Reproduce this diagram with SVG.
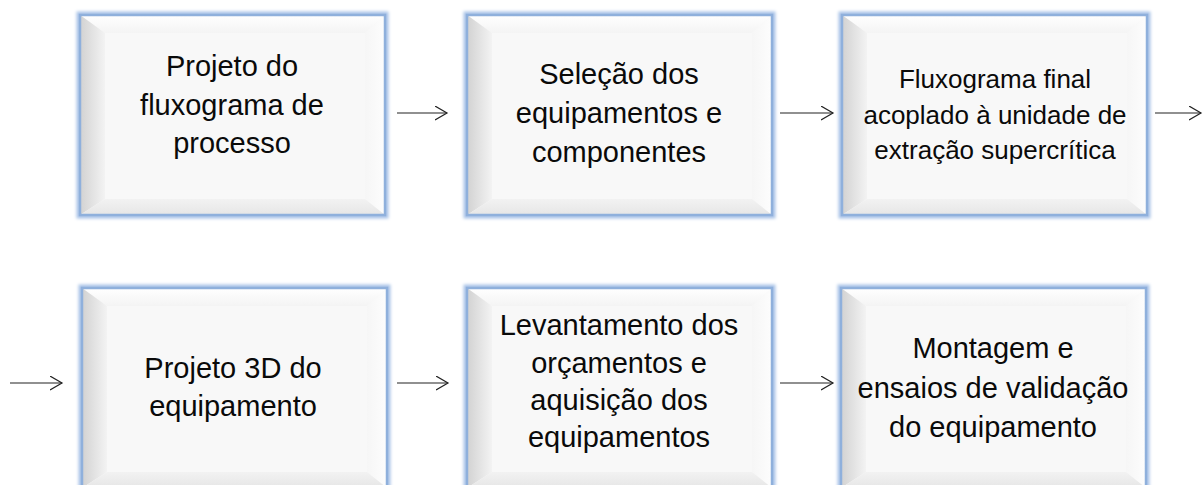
<svg xmlns="http://www.w3.org/2000/svg" xmlns:xlink="http://www.w3.org/1999/xlink" width="1203" height="485" viewBox="0 0 1203 485">
<style>
.t{font-family:"Liberation Sans",Arial,sans-serif;font-size:29px;fill:#0a0a0a;text-anchor:middle}
.s{font-size:26px}
.c{stroke:#222;stroke-width:1.2;fill:none}
</style>
<defs>
<linearGradient id="gl" x1="0" y1="0" x2="1" y2="0"><stop offset="0" stop-color="#d2d2d2"/><stop offset="1" stop-color="#f3f3f3"/></linearGradient>
<linearGradient id="gt" x1="0" y1="0" x2="0" y2="1"><stop offset="0" stop-color="#ffffff"/><stop offset="1" stop-color="#f4f4f4"/></linearGradient>
<linearGradient id="gr" x1="0" y1="0" x2="1" y2="0"><stop offset="0" stop-color="#f6f6f6"/><stop offset="1" stop-color="#fdfdfd"/></linearGradient>
<linearGradient id="gb" x1="0" y1="0" x2="0" y2="1"><stop offset="0" stop-color="#f2f2f2"/><stop offset="1" stop-color="#e6e6e6"/></linearGradient>
<filter id="glow" x="-10%" y="-10%" width="120%" height="120%"><feGaussianBlur stdDeviation="1.6"/></filter>
<g id="box">
<rect x="-1" y="-1" width="307" height="202" fill="none" stroke="#a9c3e8" stroke-width="5" filter="url(#glow)"/>
<rect x="0" y="0" width="305" height="200" fill="#f8f8f8"/>
<polygon points="0,0 305,0 285,18 25,18" fill="url(#gt)"/>
<polygon points="0,0 25,18 25,184 0,200" fill="url(#gl)"/>
<polygon points="305,0 305,200 285,184 285,18" fill="url(#gr)"/>
<polygon points="0,200 25,184 285,184 305,200" fill="url(#gb)"/>
<rect x="0" y="0" width="305" height="200" fill="none" stroke="#8fb0dc" stroke-width="2.5"/>
</g>
<marker id="ah" markerWidth="14" markerHeight="16" refX="12" refY="7" orient="auto" markerUnits="userSpaceOnUse">
<path d="M0,0 L12,7 L0,14" fill="none" stroke="#222" stroke-width="1.2"/>
</marker>
</defs>
<rect width="1203" height="485" fill="#ffffff"/>
<g id="connectors">
<line class="c" x1="397" y1="113" x2="447" y2="113" marker-end="url(#ah)"/>
<line class="c" x1="780" y1="113" x2="833" y2="113" marker-end="url(#ah)"/>
<line class="c" x1="1155" y1="113" x2="1201" y2="113" marker-end="url(#ah)"/>
<line class="c" x1="10" y1="383" x2="62" y2="383" marker-end="url(#ah)"/>
<line class="c" x1="397" y1="383" x2="448" y2="383" marker-end="url(#ah)"/>
<line class="c" x1="780" y1="383" x2="833" y2="383" marker-end="url(#ah)"/>
</g>
<g id="n1">
<use xlink:href="#box" transform="translate(80,15)"/>
<text class="t" x="232" y="76">Projeto do</text>
<text class="t" x="232" y="115">fluxograma de</text>
<text class="t" x="232" y="153">processo</text>
</g>
<g id="n2">
<use xlink:href="#box" transform="translate(467,15)"/>
<text class="t" x="619" y="84">Seleção dos</text>
<text class="t" x="619" y="123">equipamentos e</text>
<text class="t" x="619" y="162">componentes</text>
</g>
<g id="n3">
<use xlink:href="#box" transform="translate(842,15)"/>
<text class="t s" x="995" y="88">Fluxograma final</text>
<text class="t s" x="995" y="124">acoplado à unidade de</text>
<text class="t s" x="995" y="159">extração supercrítica</text>
</g>
<g id="n4">
<use xlink:href="#box" transform="translate(82,288)"/>
<text class="t" x="233" y="378">Projeto 3D do</text>
<text class="t" x="233" y="416">equipamento</text>
</g>
<g id="n5">
<use xlink:href="#box" transform="translate(467,288)"/>
<text class="t" x="619" y="335">Levantamento dos</text>
<text class="t" x="619" y="373">orçamentos e</text>
<text class="t" x="619" y="410">aquisição dos</text>
<text class="t" x="619" y="447">equipamentos</text>
</g>
<g id="n6">
<use xlink:href="#box" transform="translate(841,288)"/>
<text class="t" x="993" y="358">Montagem e</text>
<text class="t" x="993" y="398">ensaios de validação</text>
<text class="t" x="993" y="437">do equipamento</text>
</g>
</svg>
